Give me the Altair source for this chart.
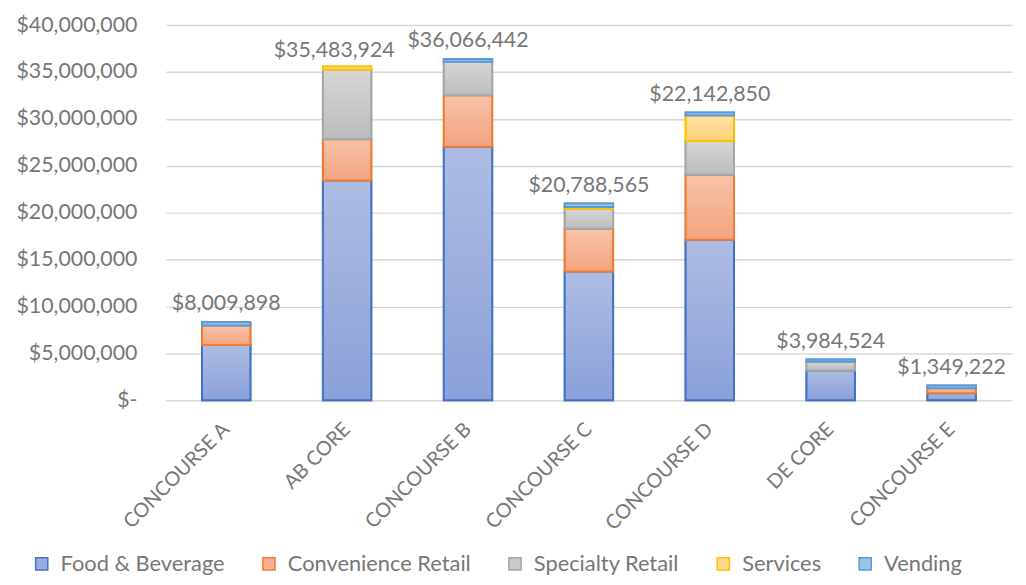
import altair as alt
import pandas as pd

categories = ["CONCOURSE A", "AB CORE", "CONCOURSE B", "CONCOURSE C", "CONCOURSE D", "DE CORE", "CONCOURSE E"]
series = ["Food & Beverage", "Convenience Retail", "Specialty Retail", "Services", "Vending"]

food = [5880000, 23430000, 27020000, 13720000, 17100000, 3170000, 740000]
convenience = [2070000, 4400000, 5490000, 4570000, 6930000, 0, 530000]
specialty = [0, 7420000, 3590000, 2110000, 3620000, 920000, 0]
services = [0, 350000, 0, 210000, 2710000, 0, 0]
vending = [360000, 0, 280000, 360000, 320000, 250000, 280000]

label_values = [8009898, 35483924, 36066442, 20788565, 22142850, 3984524, 1349222]

fills = ["#9aabdc", "#f5b293", "#c9c9c9", "#ffd98c", "#9dc3e6"]
fill_top = ["#aebce3", "#f8c3aa", "#d6d6d6", "#ffe2a6", "#b1d0ec"]
fill_bottom = ["#8aa0d8", "#f3a47f", "#bcbcbc", "#ffd27a", "#8cb8e2"]
strokes = ["#4472c4", "#ed7d31", "#a5a5a5", "#ffc000", "#5b9bd5"]

rows = []
for si, (name, vals) in enumerate(zip(series, [food, convenience, specialty, services, vending])):
    for c, v in zip(categories, vals):
        if v > 0:
            rows.append({"cat": c, "series": name, "value": v, "ord": si})
df = pd.DataFrame(rows)

totals = [sum(x) for x in zip(food, convenience, specialty, services, vending)]
ldf = pd.DataFrame({"cat": categories, "total": totals, "label": ["${:,}".format(v) for v in label_values]})

FONT = "Lato"
GRAY = "#777777"
FS = 21.5

xenc = alt.X("cat:N", sort=categories, title=None,
             scale=alt.Scale(paddingInner=0.6, paddingOuter=0.3),
             axis=alt.Axis(labelAngle=-45, labelAlign="right", labelBaseline="middle",
                           labelPadding=26, ticks=False, domain=False, labelFontSize=20,
                           labelColor=GRAY, labelFont=FONT, grid=False))

legend_kw = dict(orient="none", legendX=-136, legendY=532, direction="horizontal",
                 symbolType="square", symbolSize=150, symbolStrokeWidth=1.5,
                 labelFontSize=22, labelColor=GRAY, labelFont=FONT, labelLimit=400,
                 labelOffset=8, columnPadding=33, title=None)

bars = alt.Chart(df).mark_bar(strokeWidth=2).encode(
    x=xenc,
    y=alt.Y("value:Q", stack="zero", title=None,
            scale=alt.Scale(domain=[0, 40000000], nice=False),
            axis=alt.Axis(values=list(range(0, 40000001, 5000000)),
                          labelExpr="datum.value == 0 ? '$-\u00a0\u00a0' : format(datum.value, '$,.0f')",
                          labelFontSize=FS, labelColor=GRAY, labelFont=FONT, labelPadding=29,
                          ticks=False, domain=False, gridColor="#d9d9d9", gridWidth=1.5)),
    fill=alt.Fill("series:N", sort=series, title=None,
                  scale=alt.Scale(domain=series, range=fills), legend=alt.Legend(**legend_kw)),
    stroke=alt.Stroke("series:N", sort=series, title=None,
                      scale=alt.Scale(domain=series, range=strokes), legend=alt.Legend(**legend_kw)),
    order=alt.Order("ord:Q", sort="ascending"),
)

overlays = []
for si, name in enumerate(series):
    grad = alt.Gradient(gradient="linear", x1=0, y1=0, x2=0, y2=1,
                        stops=[alt.GradientStop(color=fill_top[si], offset=0),
                               alt.GradientStop(color=fill_bottom[si], offset=1)])
    ov = alt.Chart(df).transform_stack(
        stack="value", groupby=["cat"], as_=["y0", "y1"],
        sort=[alt.SortField("ord", order="ascending")],
    ).transform_filter(alt.datum.series == name).mark_bar(
        fill=grad, stroke=strokes[si], strokeWidth=2
    ).encode(
        x=alt.X("cat:N", sort=categories),
        y=alt.Y("y1:Q"),
        y2="y0:Q",
    )
    overlays.append(ov)

labels = alt.Chart(ldf).transform_filter(alt.datum.cat != "AB CORE").mark_text(
    fontSize=FS, font=FONT, color=GRAY, baseline="bottom", dy=-7).encode(
    x=alt.X("cat:N", sort=categories),
    y=alt.Y("total:Q"),
    text="label:N",
)
labels_ab = alt.Chart(ldf).transform_filter(alt.datum.cat == "AB CORE").mark_text(
    fontSize=FS, font=FONT, color=GRAY, baseline="bottom", dy=-4, dx=-13).encode(
    x=alt.X("cat:N", sort=categories),
    y=alt.Y("total:Q"),
    text="label:N",
)

chart = alt.layer(bars, *overlays, labels, labels_ab).properties(
    width=853, height=378, autosize="none",
    padding={"left": 159, "top": 15, "right": 6, "bottom": 175},
).configure_view(stroke=None)

chart.save("out.html", embed_options={"renderer": "svg", "actions": False})
